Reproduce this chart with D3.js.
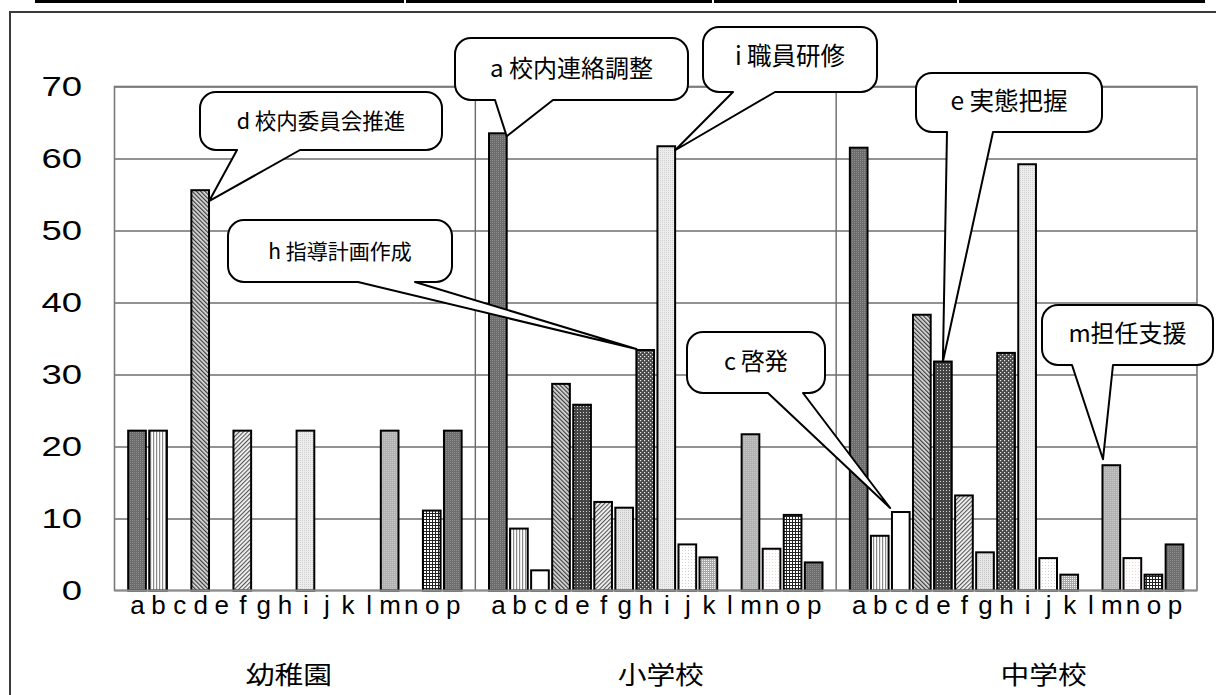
<!DOCTYPE html>
<html>
<head>
<meta charset="utf-8">
<script src="https://cdn.jsdelivr.net/npm/d3@7"></script>
<style>
  html, body { margin: 0; padding: 0; background: #fff; }
  svg { display: block; }
</style>
</head>
<body>
<svg id="chart" width="1216" height="695"></svg>
<script>
// ---- data -------------------------------------------------------------
const groups = ["幼稚園", "小学校", "中学校"];
const letters = ["a","b","c","d","e","f","g","h","i","j","k","l","m","n","o","p"];
const kindergarten = [22.2, 22.2, 0, 55.6, 0, 22.2, 0, 0, 22.2, 0, 0, 0, 22.2, 0, 11.1, 22.2];
const elementary   = [63.5, 8.6, 2.8, 28.7, 25.8, 12.3, 11.5, 33.4, 61.7, 6.4, 4.6, 0, 21.7, 5.8, 10.5, 3.9];
const juniorHigh   = [61.5, 7.6, 10.9, 38.3, 31.8, 13.2, 5.3, 33.0, 59.2, 4.5, 2.2, 0, 17.4, 4.5, 2.2, 6.4];
const yTicks = [0, 10, 20, 30, 40, 50, 60, 70];

// callout labels: which bar they point at
const calloutTexts   = ["d 校内委員会推進", "h 指導計画作成", "a 校内連絡調整", "i 職員研修", "e 実態把握", "m担任支援", "c 啓発"];
const calloutTargets = [[0, "d"], [1, "h"], [1, "a"], [1, "i"], [2, "e"], [2, "m"], [2, "c"]];

// ---- layout -----------------------------------------------------------
const W = 1216, H = 695;
const plot = { left: 114.5, right: 1197, top: 86.5, bottom: 590.5 };
const calloutLayout = [
  { box: [200, 92, 442, 150],    base: [237, 300],   tipFx: 1.0,  tipDy: 11, fs: 21.5, dy: 0 },
  { box: [228, 220, 452, 282],   base: [358, 415],   tipFx: 0.0,  tipDy: -1, fs: 21,   dy: 0 },
  { box: [455, 38, 688, 100],    base: [495, 553],   tipFx: 1.0,  tipDy: 3,  fs: 24,   dy: -1 },
  { box: [703, 27, 877, 92],     base: [733, 775],   tipFx: 1.0,  tipDy: 4,  fs: 24.5, dy: -3 },
  { box: [916, 73, 1102, 132],   base: [947, 993],   tipFx: 0.5,  tipDy: 0,  fs: 24.5, dy: -1 },
  { box: [1042, 305, 1213, 365], base: [1072, 1113], tipFx: 0.03, tipDy: -6, fs: 24,   dy: -2 },
  { box: [687, 332, 825, 393],   base: [768, 803],   tipFx: -0.1, tipDy: -4, fs: 23.5, dy: -1 }
];
const groupLabelShift = [-6, 5, 27];

const series = [kindergarten, elementary, juniorHigh];

const svg = d3.select("#chart");
svg.append("rect").attr("width", W).attr("height", H).attr("fill", "#fff");

// ---- fill patterns for each item -------------------------------------
const defs = svg.append("defs");
function dotPattern(id, size, bg, dots, dotColor, r) {
  const p = defs.append("pattern").attr("id", id).attr("patternUnits", "userSpaceOnUse")
    .attr("width", size).attr("height", size);
  p.append("rect").attr("width", size).attr("height", size).attr("fill", bg);
  dots.forEach(([dx, dy]) => p.append("rect").attr("x", dx).attr("y", dy)
    .attr("width", r).attr("height", r).attr("fill", dotColor));
}
function stripePattern(id, size, bg, fg, w, angle) {
  const p = defs.append("pattern").attr("id", id).attr("patternUnits", "userSpaceOnUse")
    .attr("width", size).attr("height", size).attr("patternTransform", `rotate(${angle})`);
  p.append("rect").attr("width", size).attr("height", size).attr("fill", bg);
  p.append("rect").attr("width", w).attr("height", size).attr("fill", fg);
}
function gridPattern(id, size, bg, fg, w) {
  const p = defs.append("pattern").attr("id", id).attr("patternUnits", "userSpaceOnUse")
    .attr("width", size).attr("height", size);
  p.append("rect").attr("width", size).attr("height", size).attr("fill", bg);
  p.append("rect").attr("width", w).attr("height", size).attr("fill", fg);
  p.append("rect").attr("width", size).attr("height", w).attr("fill", fg);
}
dotPattern("pa", 2, "#6c6c6c", [[0, 0]], "#8c8c8c", 1);
stripePattern("pb", 3, "#ffffff", "#8a8a8a", 1.2, 0);
stripePattern("pd", 3, "#dcdcdc", "#3a3a3a", 1.2, -45);
dotPattern("pe", 3, "#454545", [[1, 1]], "#d8d8d8", 1);
stripePattern("pf", 3, "#f4f4f4", "#555555", 1.1, 45);
dotPattern("pg", 2, "#e6e6e6", [[0, 0]], "#c6c6c6", 1);
dotPattern("ph", 4, "#4a4a4a", [[0, 0], [2, 2]], "#e8e8e8", 1.2);
dotPattern("pi", 2, "#ededed", [[0, 0]], "#d0d0d0", 1);
dotPattern("pj", 3, "#ffffff", [[1, 1]], "#cfcfcf", 1);
dotPattern("pk", 2, "#a8a8a8", [[0, 0]], "#f2f2f2", 1);
dotPattern("pm", 2, "#b2b2b2", [[0, 0]], "#c8c8c8", 1);
dotPattern("pn", 3, "#ffffff", [[1, 1]], "#ecd6d6", 1);
gridPattern("po", 3, "#ffffff", "#222222", 1);
dotPattern("pp", 2, "#6e6e6e", [[0, 0]], "#8e8e8e", 1);
const fillOf = l => (l === "c" ? "#ffffff" : `url(#p${l})`);

// ---- page decoration: rule at the very top and the outer frame -------
const topRule = [[35, 404], [406, 712], [714, 957], [959, 1205]];
svg.selectAll("line.toprule").data(topRule).join("line")
  .attr("x1", d => d[0]).attr("x2", d => d[1]).attr("y1", 1.5).attr("y2", 1.5)
  .attr("stroke", "#000").attr("stroke-width", 3);
svg.append("rect").attr("x", 10).attr("y", 12).attr("width", 1230).attr("height", 700)
  .attr("fill", "none").attr("stroke", "#3a3a3a").attr("stroke-width", 2);

// ---- scales -----------------------------------------------------------
const x = d3.scaleBand().domain(groups).range([plot.left, plot.right]).padding(0);
const xi = d3.scalePoint().domain(letters).range([0, x.bandwidth()]).padding(1.07);
const barW = xi.step() * 0.84;
const y = d3.scaleLinear().domain([0, 70]).range([plot.bottom, plot.top]);

// gridlines
svg.append("g")
  .attr("transform", `translate(${plot.left},0)`)
  .call(d3.axisLeft(y).tickValues(yTicks.slice(1)).tickSize(-(plot.right - plot.left)).tickFormat(""))
  .call(g => g.select(".domain").remove())
  .call(g => g.selectAll("line").attr("stroke", "#262626").attr("stroke-width", 1.2));

// plot frame and group separators
svg.append("rect")
  .attr("x", plot.left).attr("y", plot.top)
  .attr("width", plot.right - plot.left).attr("height", plot.bottom - plot.top)
  .attr("fill", "none").attr("stroke", "#7a7a7a").attr("stroke-width", 1.6);
svg.selectAll("line.sep").data(groups.slice(1)).join("line")
  .attr("x1", d => x(d)).attr("x2", d => x(d))
  .attr("y1", plot.top).attr("y2", plot.bottom)
  .attr("stroke", "#6a6a6a").attr("stroke-width", 1.4);

// y axis labels
svg.append("g")
  .attr("transform", `translate(${plot.left},0)`)
  .call(d3.axisLeft(y).tickValues(yTicks).tickSize(0).tickPadding(24))
  .call(g => g.select(".domain").remove())
  .call(g => g.selectAll("text")
    .attr("font-family", "'Liberation Sans', Arial, sans-serif")
    .attr("font-size", 27).attr("fill", "#000")
    .attr("transform", "scale(1.35,1)"));

// bars
const barData = [];
groups.forEach((g, gi) => letters.forEach((l, li) => {
  const v = series[gi][li];
  if (v > 0) barData.push({ g, l, v });
}));
svg.append("g").selectAll("rect").data(barData).join("rect")
  .attr("x", d => x(d.g) + xi(d.l) - barW / 2)
  .attr("y", d => y(d.v))
  .attr("width", barW)
  .attr("height", d => y(0) - y(d.v))
  .attr("fill", d => fillOf(d.l))
  .attr("stroke", "#000").attr("stroke-width", 2);

// x axis baseline
svg.append("line")
  .attr("x1", plot.left).attr("x2", plot.right)
  .attr("y1", y(0)).attr("y2", y(0))
  .attr("stroke", "#8c8c8c").attr("stroke-width", 2);

// item letters under each group
groups.forEach(g => {
  svg.append("g")
    .attr("transform", `translate(${x(g)},${y(0)})`)
    .call(d3.axisBottom(xi).tickSize(0).tickPadding(6))
    .call(a => a.select(".domain").remove())
    .call(a => a.selectAll("text")
      .attr("font-family", "'Liberation Sans', Arial, sans-serif")
      .attr("font-size", 25).attr("fill", "#000")
      .attr("transform", "scale(1.04,1)"));
});

// group names
svg.append("g").selectAll("text").data(groups).join("text")
  .attr("transform", (d, i) => `translate(${x(d) + x.bandwidth() / 2 + groupLabelShift[i]},684) scale(1.15,1)`)
  .attr("text-anchor", "middle")
  .attr("font-family", "'Noto Sans CJK JP', sans-serif")
  .attr("font-size", 25).attr("fill", "#000")
  .text(d => d);

// ---- callout balloons ---------------------------------------------------
function balloonPath(b, base, tip, r) {
  const [x0, y0, x1, y1] = b;
  const p = d3.path();
  p.moveTo(x0 + r, y0);
  p.lineTo(x1 - r, y0);
  p.arcTo(x1, y0, x1, y0 + r, r);
  p.lineTo(x1, y1 - r);
  p.arcTo(x1, y1, x1 - r, y1, r);
  p.lineTo(base[1], y1);
  p.lineTo(tip[0], tip[1]);
  p.lineTo(base[0], y1);
  p.lineTo(x0 + r, y1);
  p.arcTo(x0, y1, x0, y1 - r, r);
  p.lineTo(x0, y0 + r);
  p.arcTo(x0, y0, x0 + r, y0, r);
  p.closePath();
  return p.toString();
}
const balloons = calloutTexts.map((t, i) => {
  const [gi, l] = calloutTargets[i];
  const v = series[gi][letters.indexOf(l)];
  const lay = calloutLayout[i];
  const tip = [x(groups[gi]) + xi(l) - barW / 2 + lay.tipFx * barW, y(v) + lay.tipDy];
  return { t, lay, tip };
});
const bg = svg.append("g").selectAll("g").data(balloons).join("g");
bg.append("path")
  .attr("d", d => balloonPath(d.lay.box, d.lay.base, d.tip, 16))
  .attr("fill", "#fff").attr("stroke", "#000").attr("stroke-width", 2)
  .attr("stroke-linejoin", "round");
bg.append("text")
  .attr("x", d => (d.lay.box[0] + d.lay.box[2]) / 2)
  .attr("y", d => (d.lay.box[1] + d.lay.box[3]) / 2 + d.lay.dy)
  .attr("dy", "0.36em")
  .attr("text-anchor", "middle")
  .attr("font-family", "'Noto Sans CJK JP', sans-serif")
  .attr("font-size", d => d.lay.fs).attr("fill", "#000")
  .text(d => d.t);
</script>
</body>
</html>
